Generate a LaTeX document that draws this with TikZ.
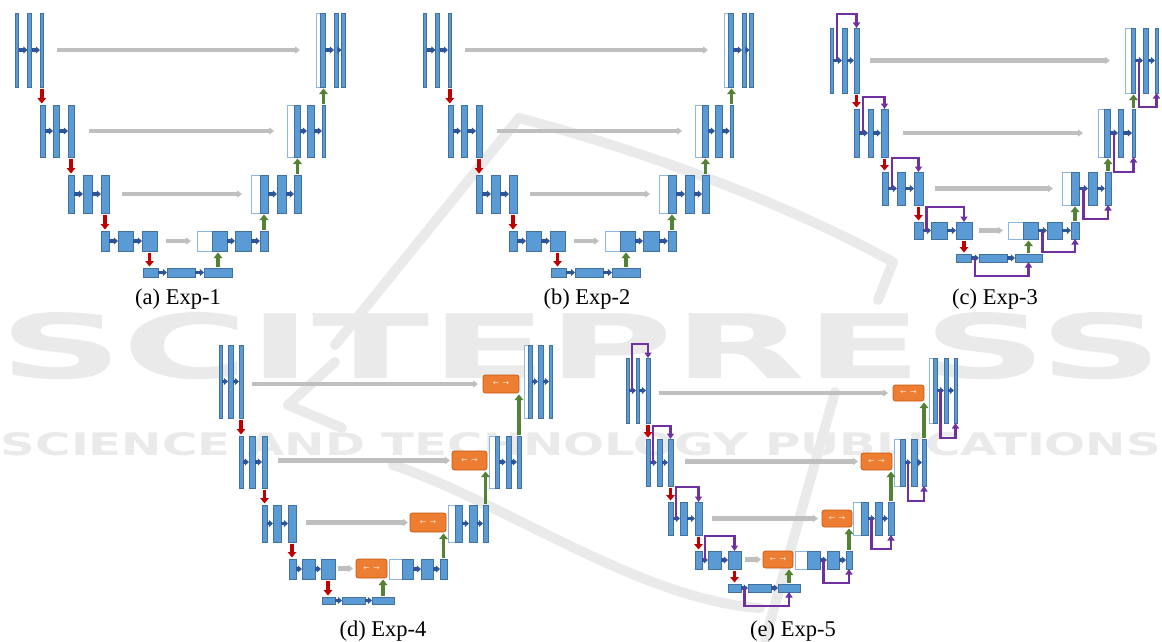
\documentclass[tikz,border=0pt]{standalone}
\usepackage{fontspec}
\setmainfont{Liberation Serif}
\newfontfamily\symfont{DejaVu Sans}
\newfontfamily\wmfont{DejaVu Sans}
\usetikzlibrary{arrows.meta,calc}

\definecolor{barBlue}{HTML}{5B9BD5}
\definecolor{barEdge}{HTML}{41719C}
\definecolor{catEdge}{HTML}{8DB7E2}
\definecolor{convBlue}{HTML}{2F5597}
\definecolor{poolRed}{HTML}{C00000}
\definecolor{upGreen}{HTML}{548235}
\definecolor{skipGray}{HTML}{BFBFBF}
\definecolor{resPurple}{HTML}{7030A0}
\definecolor{attOrange}{HTML}{ED7D31}
\definecolor{attEdge}{HTML}{C55A11}
\definecolor{wmGray}{HTML}{EAEAEA}

\tikzset{
  blk/.style={draw=barEdge, fill=barBlue, line width=0.6pt, inner sep=0pt, outer sep=0pt},
  cat/.style={draw=catEdge, fill=white, line width=0.8pt, inner sep=0pt, outer sep=0pt},
  att/.style={draw=attEdge, fill=attOrange, rounded corners=2.5pt, line width=0.7pt,
    inner sep=0pt, outer sep=0pt, text=white!80!attOrange, font=\symfont\fontsize{7.5}{7.5}\selectfont},
  conv/.style={draw=convBlue, line width=3.2pt, -{Triangle[width=7pt,length=4.2pt]}},
  pool/.style={draw=poolRed, line width=3.6pt, -{Triangle[width=8.5pt,length=5.5pt]},
    shorten <=1.5pt, shorten >=1.5pt},
  upc/.style={draw=upGreen, line width=3.6pt, -{Triangle[width=8.5pt,length=5.5pt]},
    shorten <=1.5pt, shorten >=1.5pt},
  skip/.style={draw=skipGray, line width=4.2pt, -{Triangle[width=7pt,length=5pt]}},
  res/.style={draw=resPurple, line width=2.3pt, -{Triangle[width=7pt,length=5.5pt]}},
  captxt/.style={inner sep=0pt, font=\fontsize{22.5}{24}\selectfont},
  wm/.style={inner sep=0pt, text=wmGray, font=\wmfont\bfseries},
  logo/.style={draw=wmGray, line width=10pt, line cap=round, line join=round},
}

% one block given its corners: style, name, x1, y1, x2, y2
\newcommand\bx[6]{%
  \node[#1, minimum width={(#5)-(#3)}, minimum height={(#6)-(#4)}]
    (#2) at ({((#3)+(#5))/2},{((#4)+(#6))/2}) {};}
% attention gate: name, x1, y1, x2, y2
\newcommand\gate[5]{%
  \node[att, minimum width={(#4)-(#2)}, minimum height={(#5)-(#3)}]
    (#1) at ({((#2)+(#4))/2},{((#3)+(#5))/2}) {←\kern3.5pt→};}
% encoder trio (also the bottleneck): prefix, top, bottom, three x ranges
\newcommand\Enc[9]{%
  \bx{blk}{#1L1}{#4}{#2}{#5}{#3}
  \bx{blk}{#1L2}{#6}{#2}{#7}{#3}
  \bx{blk}{#1L3}{#8}{#2}{#9}{#3}
  \draw[conv] (#1L1.east) -- (#1L2.west);
  \draw[conv] (#1L2.east) -- (#1L3.west);}
% decoder concat pair: prefix, top, bottom, x of white, blue, end
\newcommand\DecA[6]{%
  \bx{cat}{#1W}{#4}{#2}{#5}{#3}
  \bx{blk}{#1B}{#5}{#2}{#6}{#3}}
% decoder conv pair: prefix, top, bottom, two x ranges
\newcommand\DecB[7]{%
  \bx{blk}{#1R2}{#4}{#2}{#5}{#3}
  \bx{blk}{#1R3}{#6}{#2}{#7}{#3}
  \draw[conv] (#1B.east) -- (#1R2.west);
  \draw[conv] (#1R2.east) -- (#1R3.west);}
% pooling links of a whole network
\newcommand\Links[1]{%
  \draw[pool] (#11L3.south) -- (#11L3.south |- #12L1.north);
  \draw[pool] (#12L3.south) -- (#12L3.south |- #13L1.north);
  \draw[pool] (#13L3.south) -- (#13L3.south |- #14L1.north);
  \draw[pool] (#14L3.south) -- (#14L3.south |- #15L1.north);}
% up-sampling links: prefix, targets of levels 1..4
\newcommand\Ups[5]{%
  \draw[upc] (#12R3.north) -- (#12R3.north |- #2.south);
  \draw[upc] (#13R3.north) -- (#13R3.north |- #3.south);
  \draw[upc] (#14R3.north) -- (#14R3.north |- #4.south);
  \draw[upc] (#15L3.north) -- (#15L3.north |- #5.south);}
% residual loops: prefix of level, gap
\newcommand\ResL[2]{%
  \draw[res] ($(#1L1.east)!.45!(#1L2.west)$) |- ([yshift=#2pt]#1L3.north) -- (#1L3.north);}
\newcommand\ResR[2]{%
  \draw[res] ($(#1B.east)!.5!(#1R2.west)$) |- ([yshift=-#2pt]#1R3.south) -- (#1R3.south);}
\newcommand\ResB[2]{%
  \draw[res] ($(#1L1.east)!.5!(#1L2.west)$) |- ([yshift=-#2pt]#1L3.south) -- (#1L3.south);}
% skip connection into an attention gate, kept level with the gate
\newcommand\SkipGate[4]{%
  \draw[skip, shorten <=#3pt, shorten >=#4pt] (#1.east |- #2.west) -- (#2.west);}

% plain U-Net used twice
\newcommand\PlainNet[1]{%
  \Enc{#11}{13}{87}{15}{18.5}{27.5}{31.5}{40}{43.5}
  \DecA{#11}{13}{87}{316}{320}{325}
  \DecB{#11}{13}{87}{334}{338}{341.5}{345}
  \Enc{#12}{105}{157}{40}{45}{53}{59}{68}{74}
  \DecA{#12}{105}{157}{287}{294}{300}
  \DecB{#12}{105}{157}{307}{314}{322}{325}
  \Enc{#13}{175}{213}{68}{74}{83}{92}{101}{109}
  \DecA{#13}{175}{213}{251}{260}{268}
  \DecB{#13}{175}{213}{277}{286}{294}{301}
  \Enc{#14}{231}{251}{101}{109}{118}{133}{142}{157}
  \DecA{#14}{231}{251}{197}{212}{227}
  \DecB{#14}{231}{251}{235}{251}{260}{268}
  \Enc{#15}{268}{277}{143}{158}{167}{195}{204}{232}
  \draw[skip, shorten <=13pt, shorten >=16pt] (#11L3.east) -- (#11W.west);
  \draw[skip, shorten <=15pt, shorten >=13pt] (#12L3.east) -- (#12W.west);
  \draw[skip, shorten <=13pt, shorten >=9pt] (#13L3.east) -- (#13W.west);
  \draw[skip, shorten <=9pt, shorten >=6pt] (#14L3.east) -- (#14W.west);
  \Links{#1}
  \Ups{#1}{#11B}{#12B}{#13B}{#14B}}

\begin{document}
\begin{tikzpicture}[x=1pt, y=-1pt]
\useasboundingbox (0,0) rectangle (1162,642);
\fill[white] (0,0) rectangle (1162,642);

% publisher watermark: emblem strokes and lettering
\draw[logo] (335,345) -- (519,118) .. controls (640,150) and (780,200) .. (893,262) -- (878,300);
\draw[logo] (335,362) -- (288,405) -- (342,428);
\draw[logo] (835,392) -- (765,640);
\draw[logo] (393,465) .. controls (500,500) and (640,600) .. (760,608);
\node[wm] (wmA) at (581,346) {\resizebox{1162pt}{66pt}{SCITEPRESS}};
\node[wm] (wmB) at (581,444) {\resizebox{1160pt}{23pt}{SCIENCE AND TECHNOLOGY PUBLICATIONS}};

% (a) and (b): plain U-Net
\PlainNet{a}
\begin{scope}[xshift=408pt]
\PlainNet{b}
\end{scope}

% (c): U-Net with residual blocks
\Enc{c1}{28}{93}{830}{833}{842}{847}{854}{859}
\DecA{c1}{28}{93}{1125}{1131}{1135}
\DecB{c1}{28}{93}{1143}{1148}{1155}{1158}
\Enc{c2}{109}{157}{854}{859}{868}{873}{881}{888}
\DecA{c2}{109}{157}{1098}{1104}{1110}
\DecB{c2}{109}{157}{1118}{1123}{1132}{1135}
\Enc{c3}{172}{205}{882}{888}{897}{905}{914}{923}
\DecA{c3}{172}{205}{1062}{1071}{1079}
\DecB{c3}{172}{205}{1088}{1097}{1105}{1111}
\Enc{c4}{222}{239}{914}{923}{931}{947}{956}{972}
\DecA{c4}{222}{239}{1008}{1023}{1038}
\DecB{c4}{222}{239}{1047}{1062}{1071}{1079}
\Enc{c5}{254}{262}{956}{971}{979}{1007}{1015}{1042}
\draw[skip, shorten <=11pt, shorten >=15pt] (c1L3.east) -- (c1W.west);
\draw[skip, shorten <=15pt, shorten >=15pt] (c2L3.east) -- (c2W.west);
\draw[skip, shorten <=12pt, shorten >=9pt] (c3L3.east) -- (c3W.west);
\draw[skip, shorten <=7pt, shorten >=5pt] (c4L3.east) -- (c4W.west);
\Links{c}
\Ups{c}{c1B}{c2B}{c3B}{c4B}
\ResL{c1}{14}\ResL{c2}{12}\ResL{c3}{14}\ResL{c4}{15}
\ResR{c1}{14}\ResR{c2}{15}\ResR{c3}{14}\ResR{c4}{13}
\ResB{c5}{14}

% (d): U-Net with attention gates
\Enc{d1}{345}{418}{219}{222}{228}{233}{239}{243}
\gate{d1O}{483}{375}{519}{393}
\DecA{d1}{345}{418}{524}{528}{532}
\DecB{d1}{345}{418}{538}{543}{549}{552}
\Enc{d2}{436}{488}{239}{243}{249}{255}{262}{267}
\gate{d2O}{452}{451}{487}{470}
\DecA{d2}{436}{488}{489}{495}{499}
\DecB{d2}{436}{488}{506}{511}{517}{521}
\Enc{d3}{505}{542}{262}{267}{273}{281}{288}{296}
\gate{d3O}{410}{513}{446}{532}
\DecA{d3}{505}{542}{448}{455}{462}
\DecB{d3}{505}{542}{469}{477}{483}{488}
\Enc{d4}{559}{579}{289}{296}{302}{315}{321}{335}
\gate{d4O}{356}{559}{387}{578}
\DecA{d4}{559}{579}{389}{402}{413}
\DecB{d4}{559}{579}{421}{433}{440}{447}
\Enc{d5}{597}{604}{322}{335}{342}{365}{372}{394}
\SkipGate{d1L3}{d1O}{9}{5}
\SkipGate{d2L3}{d2O}{11}{2}
\SkipGate{d3L3}{d3O}{10}{2}
\SkipGate{d4L3}{d4O}{3}{3}
\Links{d}
\Ups{d}{d1O}{d2O}{d3O}{d4O}

% (e): U-Net with residual blocks and attention gates
\Enc{e1}{358}{423}{626}{629}{636}{639}{646}{650}
\gate{e1O}{893}{385}{924}{401}
\DecA{e1}{358}{423}{929}{933}{937}
\DecB{e1}{358}{423}{944}{948}{954}{957}
\Enc{e2}{439}{486}{646}{650}{657}{662}{668}{673}
\gate{e2O}{861}{453}{892}{470}
\DecA{e2}{439}{486}{894}{900}{905}
\DecB{e2}{439}{486}{911}{917}{922}{926}
\Enc{e3}{502}{535}{668}{673}{680}{687}{695}{702}
\gate{e3O}{822}{510}{852}{527}
\DecA{e3}{502}{535}{853}{861}{868}
\DecB{e3}{502}{535}{875}{882}{888}{894}
\Enc{e4}{551}{569}{695}{702}{708}{721}{728}{741}
\gate{e4O}{763}{551}{793}{568}
\DecA{e4}{551}{569}{795}{807}{820}
\DecB{e4}{551}{569}{827}{839}{846}{852}
\Enc{e5}{584}{592}{728}{741}{748}{771}{778}{800}
\SkipGate{e1L3}{e1O}{9}{5}
\SkipGate{e2L3}{e2O}{12}{3}
\SkipGate{e3L3}{e3O}{10}{4}
\SkipGate{e4L3}{e4O}{4}{2}
\Links{e}
\Ups{e}{e1O}{e2O}{e3O}{e4O}
\ResL{e1}{14}\ResL{e2}{13}\ResL{e3}{15}\ResL{e4}{15}
\ResR{e1}{15}\ResR{e2}{15}\ResR{e3}{14}\ResR{e4}{14}
\ResB{e5}{14}

% captions
\node[captxt] (capA) at (178,299) {(a) Exp-1};
\node[captxt] (capB) at (587,299) {(b) Exp-2};
\node[captxt] (capC) at (995,299) {(c) Exp-3};
\node[captxt] (capD) at (383,631) {(d) Exp-4};
\node[captxt] (capE) at (793,631) {(e) Exp-5};
\end{tikzpicture}
\end{document}
